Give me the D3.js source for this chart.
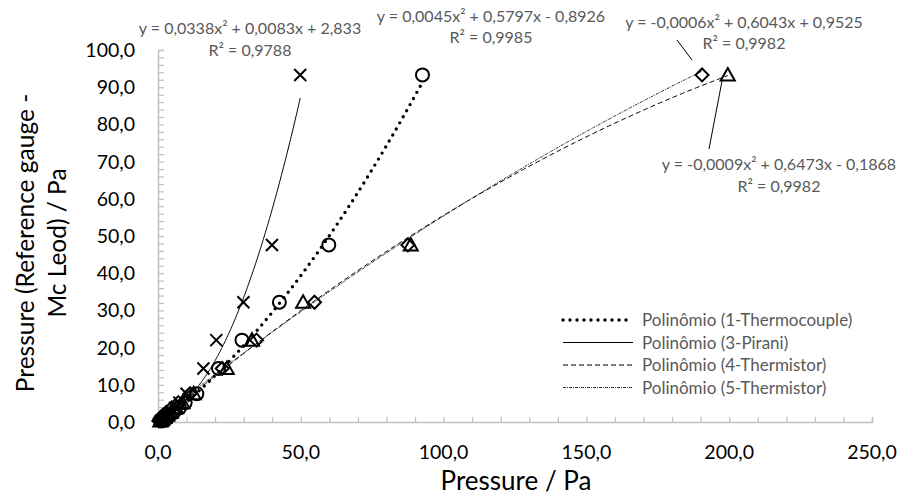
<!DOCTYPE html>
<html>
<head>
<meta charset="utf-8">
<script src="https://cdn.jsdelivr.net/npm/d3@7"></script>
<style>
  body { margin: 0; background: #fff; }
  svg { font-family: Lato, "Open Sans", sans-serif; }
</style>
</head>
<body>
<div id="chart"></div>
<script>
// reference gauge (Mc Leod) readings, shared by all gauges
const refPressure = [93.3, 47.6, 32.2, 22.0, 14.4, 7.6, 5.2, 3.8, 2.6, 1.8, 1.2, 0.8, 0.5, 0.3];

// gauge readings / Pa
const thermocouple = [92.6, 59.8, 42.5, 29.4, 21.2, 13.6, 9.5, 7.5, 5.5, 4.2, 3.2, 2.5, 1.8, 1.3];
const pirani       = [49.8, 39.9, 29.9, 20.4, 15.9, 10.0, 7.5, 6.0, 4.5, 3.5, 2.8, 2.2, 1.6, 1.0];
const thermistor4  = [199.5, 88.5, 50.8, 32.9, 24.1, 12.5, 8.6, 6.3, 4.5, 3.2, 2.3, 1.6, 1.1, 0.8];
const thermistor5  = [190.5, 87.5, 54.8, 34.5, 22.5, 11.2, 7.1, 4.8, 2.9, 1.7, 1.0, 0.7, 0.5, 0.3];

// trendline coefficients [a, b, c] for y = a x^2 + b x + c
const fitThermocouple = [0.0045, 0.5797, -0.8926];
const fitPirani       = [0.0338, 0.0083, 2.833];
const fitThermistor4  = [-0.0009, 0.6473, -0.1868];
const fitThermistor5  = [-0.0006, 0.6043, 0.9525];

const xTicks = [0, 50, 100, 150, 200, 250];
const yTicks = [0, 10, 20, 30, 40, 50, 60, 70, 80, 90, 100];

const legendLabels = ["Polinômio (1-Thermocouple)", "Polinômio (3-Pirani)",
                      "Polinômio (4-Thermistor)", "Polinômio (5-Thermistor)"];

const W = 901, H = 495;
const svg = d3.select("#chart").append("svg").attr("width", W).attr("height", H);

const x = d3.scaleLinear().domain([0, 250]).range([158, 872]);
const y = d3.scaleLinear().domain([0, 100]).range([422, 50]);

const fmt = v => d3.format(".1f")(v).replace(".", ",");
const axisColor = "#bfbfbf";

// axes
const xAxis = svg.append("g").attr("transform", "translate(0," + y(0) + ")")
    .call(d3.axisBottom(x).tickValues(d3.range(0, 251, 10)).tickSize(-5).tickFormat(""));
const yAxis = svg.append("g").attr("transform", "translate(" + x(0) + ",0)")
    .call(d3.axisLeft(y).tickValues(d3.range(0, 101, 2)).tickSize(-6).tickFormat(""));
[xAxis, yAxis].forEach(g => {
  g.select(".domain").attr("stroke", axisColor).attr("stroke-width", 1.5);
  g.selectAll(".tick line").attr("stroke", axisColor).attr("stroke-width", 1.2);
});

svg.append("g").selectAll("text").data(xTicks).enter().append("text")
    .attr("x", d => x(d)).attr("y", 459)
    .attr("text-anchor", "middle").attr("font-size", 19.5).attr("fill", "#000")
    .text(fmt);
svg.append("g").selectAll("text").data(yTicks).enter().append("text")
    .attr("x", 135).attr("y", d => y(d) + 7)
    .attr("text-anchor", "end").attr("font-size", 19.5).attr("fill", "#000")
    .text(fmt);

// axis titles
svg.append("text").attr("x", 516).attr("y", 490).attr("text-anchor", "middle")
    .attr("font-size", 26).text("Pressure / Pa");
const yt = svg.append("text").attr("transform", "translate(0,243) rotate(-90)")
    .attr("text-anchor", "middle").attr("font-size", 24.5);
yt.append("tspan").attr("x", 0).attr("y", 34).text("Pressure (Reference gauge -");
yt.append("tspan").attr("x", 0).attr("y", 66).text("Mc Leod) / Pa");

// trendlines
const series = [
  { xs: thermocouple, fit: fitThermocouple, marker: "circle",   dash: "0,7",     width: 3.4, cap: "round" },
  { xs: pirani,       fit: fitPirani,       marker: "cross",    dash: null,      width: 1,   cap: "butt" },
  { xs: thermistor4,  fit: fitThermistor4,  marker: "triangle", dash: "5,3",     width: 1,   cap: "butt" },
  { xs: thermistor5,  fit: fitThermistor5,  marker: "diamond",  dash: "3,1,1,1", width: 0.8, cap: "butt" }
];

const line = d3.line().x(d => x(d[0])).y(d => y(d[1]));
series.forEach(s => {
  const [lo, hi] = d3.extent(s.xs);
  const pts = d3.range(0, 201).map(i => {
    const xv = lo + (hi - lo) * i / 200;
    return [xv, s.fit[0] * xv * xv + s.fit[1] * xv + s.fit[2]];
  });
  svg.append("path").datum(pts).attr("d", line)
      .attr("fill", "none").attr("stroke", "#000")
      .attr("stroke-width", s.width).attr("stroke-linecap", s.cap)
      .attr("stroke-dasharray", s.dash);
});

// markers
function drawMarker(g, type) {
  if (type === "circle") {
    g.append("circle").attr("r", 6.5);
  } else if (type === "cross") {
    g.append("path").attr("d", "M-6,-6L6,6M-6,6L6,-6");
  } else if (type === "triangle") {
    g.append("path").attr("d", "M0,-7L7,5.5L-7,5.5Z");
  } else {
    g.append("path").attr("d", "M0,-6.5L6.5,0L0,6.5L-6.5,0Z");
  }
}
series.forEach(s => {
  s.xs.forEach((xv, i) => {
    const g = svg.append("g").attr("transform", "translate(" + x(xv) + "," + y(refPressure[i]) + ")")
        .attr("fill", "none").attr("stroke", "#000").attr("stroke-width", 2);
    drawMarker(g, s.marker);
  });
});

// trendline labels
const eqColor = "#595959";
const labels = [
  { cx: 250, y1: 34, y2: 56, eq: "y = 0,0338x² + 0,0083x + 2,833", r2: "R² = 0,9788" },
  { cx: 491, y1: 22, y2: 43, eq: "y = 0,0045x² + 0,5797x - 0,8926", r2: "R² = 0,9985" },
  { cx: 744, y1: 28, y2: 49, eq: "y = -0,0006x² + 0,6043x + 0,9525", r2: "R² = 0,9982" },
  { cx: 779, y1: 170, y2: 192, eq: "y = -0,0009x² + 0,6473x - 0,1868", r2: "R² = 0,9982" }
];
labels.forEach(l => {
  svg.append("text").attr("x", l.cx).attr("y", l.y1).attr("text-anchor", "middle")
      .attr("font-size", 16).attr("fill", eqColor).text(l.eq);
  svg.append("text").attr("x", l.cx).attr("y", l.y2).attr("text-anchor", "middle")
      .attr("font-size", 16).attr("fill", eqColor).text(l.r2);
});
// leader lines
svg.append("line").attr("x1", 677).attr("y1", 40).attr("x2", 692).attr("y2", 60)
    .attr("stroke", "#000").attr("stroke-width", 1);
svg.append("line").attr("x1", 709).attr("y1", 149).attr("x2", 722).attr("y2", 81)
    .attr("stroke", "#000").attr("stroke-width", 1);

// legend
const legend = svg.append("g");
legendLabels.forEach((t, i) => {
  const ly = 320 + i * 22.5;
  const s = series[i];
  legend.append("line").attr("x1", 563).attr("x2", 633).attr("y1", ly).attr("y2", ly)
      .attr("stroke", "#000").attr("stroke-width", s.width).attr("stroke-linecap", s.cap)
      .attr("stroke-dasharray", s.dash);
  legend.append("text").attr("x", 642).attr("y", ly + 6).attr("font-size", 17)
      .attr("fill", eqColor).text(t);
});
</script>
</body>
</html>
